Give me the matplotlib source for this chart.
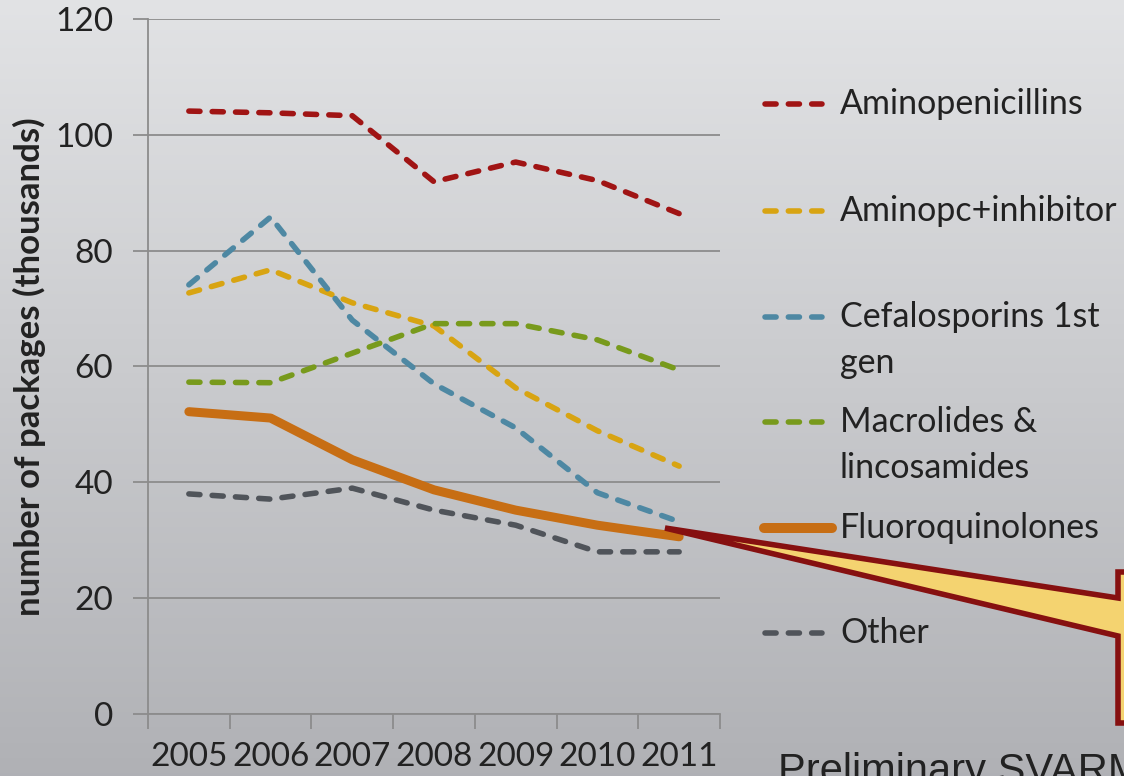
import numpy as np
import matplotlib
matplotlib.use("Agg")
import matplotlib.pyplot as plt
from matplotlib.lines import Line2D
from matplotlib.patches import Polygon

years = ["2005", "2006", "2007", "2008", "2009", "2010", "2011"]
aminopenicillins = [104.1, 103.8, 103.3, 91.9, 95.3, 92.1, 86.4]
aminopc_inhibitor = [72.7, 76.7, 71.0, 67.0, 56.3, 48.9, 42.8]
cefalosporins = [74.1, 85.8, 68.0, 57.0, 49.4, 38.2, 33.2]
macrolides = [57.3, 57.2, 62.3, 67.4, 67.4, 64.6, 59.4]
fluoroquinolones = [52.2, 51.1, 43.9, 38.7, 35.2, 32.6, 30.6]
other = [38.0, 37.1, 39.0, 35.2, 32.6, 28.0, 28.0]

labels = ["Aminopenicillins", "Aminopc+inhibitor", "Cefalosporins 1st\ngen",
          "Macrolides &\nlincosamides", "Fluoroquinolones", "Other"]
series = [aminopenicillins, aminopc_inhibitor, cefalosporins, macrolides,
          fluoroquinolones, other]
colors = ["#a01414", "#d8a412", "#4e88a3", "#789a1c", "#c76e14", "#50545a"]
solid = [False, False, False, False, True, False]
yticks = [0, 20, 40, 60, 80, 100, 120]

W, H = 1124, 776
fig = plt.figure(figsize=(W / 100, H / 100), dpi=100)

# background gradient
bg = fig.add_axes([0, 0, 1, 1], zorder=-10)
top = np.array([0.886, 0.890, 0.898])
bot = np.array([0.690, 0.694, 0.710])
t = np.linspace(0, 1, 256)[:, None]
grad = top[None, :] * (1 - t) + bot[None, :] * t
bg.imshow(grad[:, None, :], aspect="auto", extent=[0, 1, 0, 1])
bg.set_axis_off()

FONT = "Lato"
txtcol = "#222222"
gridcol = "#8c8c8c"
DLW = 4.0
DASH = (2.0, 2.2)

ax = fig.add_axes([148 / W, 1 - 714 / H, (720 - 148) / W, (714 - 19) / H])
ax.patch.set_alpha(0)
x = np.arange(len(years))
for s, c, sol, lab in zip(series, colors, solid, labels):
    if sol:
        ax.plot(x, s, color=c, lw=6.5, solid_capstyle="round",
                solid_joinstyle="round", zorder=3)
    else:
        ax.plot(x, s, color=c, lw=DLW, dashes=DASH,
                dash_capstyle="round", dash_joinstyle="round", zorder=3)

ax.set_xlim(-0.5, len(years) - 0.5)
ax.set_ylim(0, 120)
ax.set_yticks(yticks)
ax.set_yticklabels([str(v) for v in yticks], fontfamily=FONT, fontsize=24,
                   color=txtcol)
ax.set_xticks(x)
ax.set_xticklabels(years, fontfamily=FONT, fontsize=24, color=txtcol)
ax.set_xticks(np.arange(-0.5, len(years)), minor=True)
ax.tick_params(axis="x", which="major", length=0, pad=20)
ax.tick_params(axis="x", which="minor", length=11, width=1.3, color=gridcol)
ax.tick_params(axis="y", length=11, width=1.3, color=gridcol, pad=14)
ax.grid(axis="y", color=gridcol, lw=1.3, zorder=1)
for side in ["top", "right"]:
    ax.spines[side].set_visible(False)
for side in ["left", "bottom"]:
    ax.spines[side].set_color(gridcol)
    ax.spines[side].set_linewidth(1.3)
ax.set_ylabel("number of packages (thousands)", fontfamily=FONT,
              fontsize=25, fontweight="bold", color=txtcol)
ax.yaxis.set_label_coords((46 - 148) / (720 - 148), (714 - 367) / (714 - 19))

# legend (manual)
leg_y = [104, 211, 317, 422, 528, 633]
for lab, c, sol, yy in zip(labels, colors, solid, leg_y):
    fy = 1 - yy / H
    if sol:
        fig.add_artist(Line2D([764 / W, 832 / W], [fy, fy], color=c, lw=7.2,
                              solid_capstyle="round"))
    else:
        fig.add_artist(Line2D([765 / W, 822 / W], [fy, fy], color=c, lw=DLW,
                              dashes=DASH, dash_capstyle="round"))
    for i, line in enumerate(lab.split("\n")):
        fig.text(840 / W, 1 - (yy + 10 + 46 * i) / H, line, fontfamily=FONT,
                 fontsize=24.5, color=txtcol, va="baseline", ha="left")

# callout
ov = fig.add_axes([0, 0, 1, 1], zorder=5)
ov.set_xlim(0, W)
ov.set_ylim(H, 0)
ov.set_axis_off()
ov.patch.set_alpha(0)
pts = [(665, 528), (1118, 598), (1118, 572), (1135, 572), (1135, 723),
       (1118, 723), (1118, 636)]
ov.add_patch(Polygon(pts, closed=True, facecolor="#f4d370", edgecolor="#861010",
                     lw=4, joinstyle="miter"))

fig.text(778 / W, 1 - 752 / H, "Preliminary SVARM", fontfamily="Liberation Sans",
         fontsize=30, color=txtcol, va="top", ha="left")

fig.savefig("out.png", dpi=100)
